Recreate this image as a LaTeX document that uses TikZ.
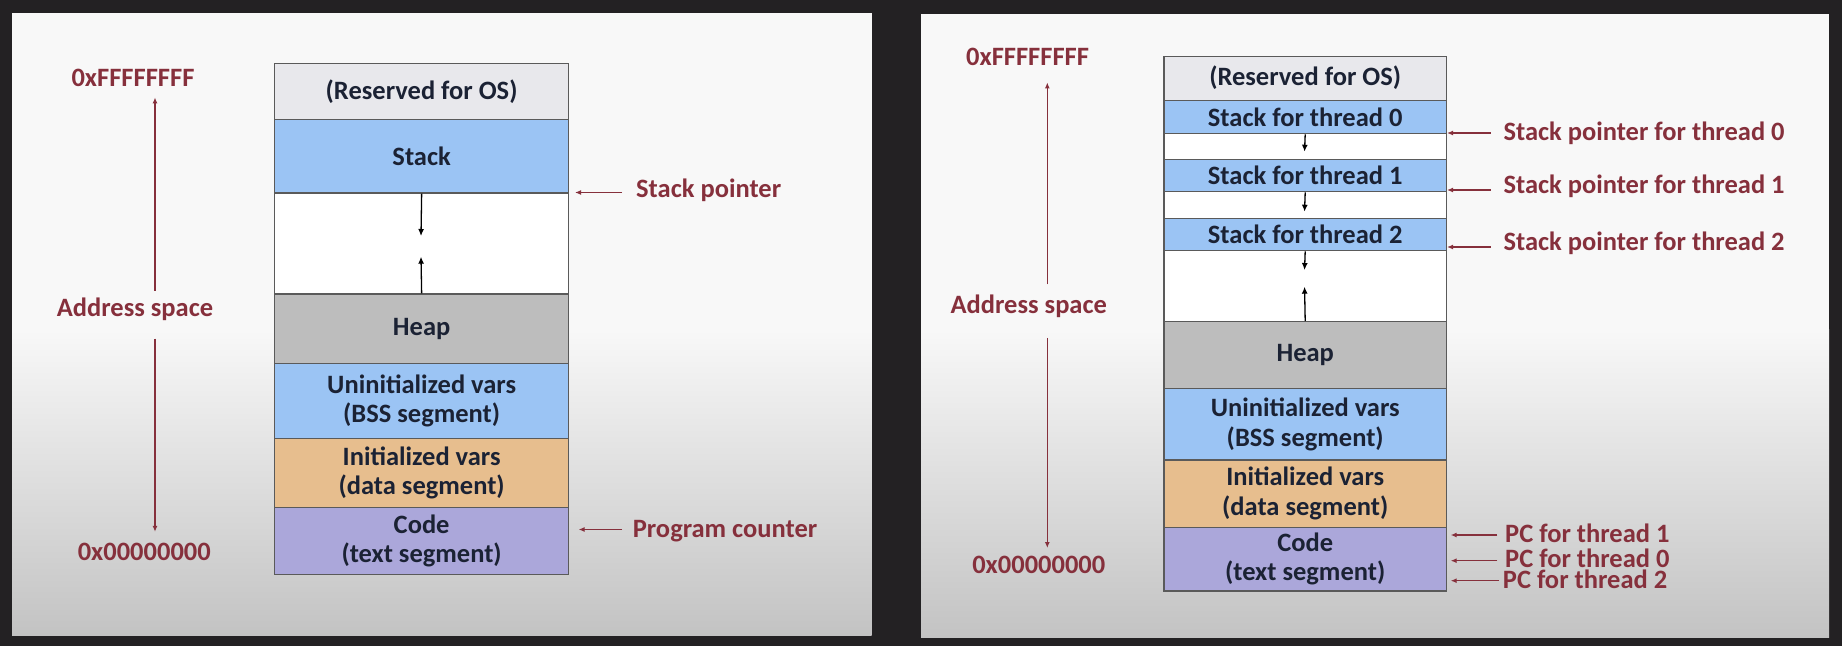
\documentclass[tikz,border=0pt]{standalone}
\usepackage{fontspec}
\setmainfont{Carlito}
\usetikzlibrary{arrows.meta}
\definecolor{bgdark}{HTML}{232123}
\definecolor{panelhi}{HTML}{F8F8F8}
\definecolor{panello}{HTML}{C3C3C3}
\definecolor{maroonc}{HTML}{86303C}
\definecolor{ink}{HTML}{1B2234}
\definecolor{resvc}{HTML}{E8E8EC}
\definecolor{stkc}{HTML}{9BC4F4}
\definecolor{heapc}{HTML}{BDBDBD}
\definecolor{datac}{HTML}{E7BE8E}
\definecolor{codec}{HTML}{ABA7DA}
\definecolor{edgec}{HTML}{5A5A5A}
\newcommand\labfont{\fontsize{26.5}{29.5}\selectfont\bfseries}
\begin{document}
\begin{tikzpicture}[x=1pt,y=-1pt,
  seg/.style={draw=edgec, line width=1.3pt, inner sep=0pt, anchor=north west,
              text=ink, font=\labfont, align=center},
  segL/.style={seg, minimum width=294pt},
  segR/.style={seg, minimum width=282.5pt},
  lab/.style={text=maroonc, font=\labfont, inner sep=0pt},
  pclab/.style={lab, text height=18pt, text depth=0pt},
  marrow/.style={draw=maroonc, line width=1.3pt, -{Latex[length=6pt,width=5pt]}},
  garrow/.style={draw=black, line width=1.3pt, -{Latex[length=7pt,width=6pt]}}
]
\useasboundingbox (0,0) rectangle (1842,646);
\fill[bgdark] (0,0) rectangle (1842,646);
% panels
\fill[panelhi] (12,13) rectangle (871.5,330);
\shade[top color=panelhi, bottom color=panello] (12,329.5) rectangle (871.5,635);
\fill[panelhi] (921,14) rectangle (1829,330);
\shade[top color=panelhi, bottom color=panello] (921,329.5) rectangle (1829,637);

% ---------------- left panel ----------------
\node[segL, fill=resvc, minimum height=55.7pt] (resL) at (274,63) {(Reserved for OS)};
\node[segL, fill=stkc, minimum height=73.7pt] (stackL) at (274,118.7) {Stack};
\node[segL, fill=white, minimum height=101pt] (gapL) at (274,192.4) {};
\node[segL, fill=heapc, minimum height=69.2pt] (heapL) at (274,293.4) {Heap};
\node[segL, fill=stkc, minimum height=75pt] (bssL) at (274,362.6) {Uninitialized vars\\(BSS segment)};
\node[segL, fill=datac, minimum height=69.2pt] (dataL) at (274,437.6) {Initialized vars\\(data segment)};
\node[segL, fill=codec, minimum height=67.2pt] (codeL) at (274,506.8) {Code\\(text segment)};

\coordinate (dnL) at (421,236);
\coordinate (upL) at (421,256.7);
\draw[garrow] (stackL.south) -- (dnL);
\draw[garrow] (heapL.north) -- (upL);

\node[lab, anchor=base] (hiL) at (133,86) {0xFFFFFFFF};
\node[lab, anchor=base] (asL) at (135,316.3) {Address space};
\node[lab, anchor=base] (loL) at (144.3,560.5) {0x00000000};
\coordinate (asLt) at (155,290.7);
\coordinate (asLtip) at (155,97.4);
\coordinate (asLb) at (155,338.5);
\coordinate (asLbtip) at (155,531.8);
\draw[marrow] (asLt) -- (asLtip);
\draw[marrow] (asLb) -- (asLbtip);

\node[lab, anchor=base west] (spL) at (636,197.3) {Stack pointer};
\node[lab, anchor=base west] (pcL) at (632.6,537) {Program counter};
\coordinate (spLa) at (622,192.5);
\coordinate (spLb) at (575,192.5);
\coordinate (pcLa) at (622,529.5);
\coordinate (pcLb) at (578.6,529.5);
\draw[marrow] (spLa) -- (spLb);
\draw[marrow] (pcLa) -- (pcLb);

% ---------------- right panel ----------------
\node[segR, fill=resvc, minimum height=44pt] (resR) at (1163.3,55.5) {(Reserved for OS)};
\node[segR, fill=stkc, minimum height=33.5pt] (st0) at (1163.3,99.5) {Stack for thread 0};
\node[segR, fill=white, minimum height=26pt] (g0) at (1163.3,133) {};
\node[segR, fill=stkc, minimum height=32pt] (st1) at (1163.3,159) {Stack for thread 1};
\node[segR, fill=white, minimum height=27pt] (g1) at (1163.3,191) {};
\node[segR, fill=stkc, minimum height=32pt] (st2) at (1163.3,218) {Stack for thread 2};
\node[segR, fill=white, minimum height=71pt] (g2) at (1163.3,250) {};
\node[segR, fill=heapc, minimum height=67pt] (heapR) at (1163.3,321) {Heap};
\node[segR, fill=stkc, minimum height=71.4pt] (bssR) at (1163.3,388) {Uninitialized vars\\(BSS segment)};
\node[segR, fill=datac, minimum height=67.2pt] (dataR) at (1163.3,459.4) {Initialized vars\\(data segment)};
\node[segR, fill=codec, minimum height=63.8pt] (codeR) at (1163.3,526.6) {Code\\(text segment)};

\coordinate (dn0) at (1304.55,151.7);
\coordinate (dn1) at (1304.55,211.7);
\coordinate (dn2) at (1304.55,270);
\coordinate (upR) at (1304.55,286.7);
\draw[garrow] (st0.south) -- (dn0);
\draw[garrow] (st1.south) -- (dn1);
\draw[garrow] (st2.south) -- (dn2);
\draw[garrow] (heapR.north) -- (upR);

\node[lab, anchor=base] (hiR) at (1027.6,65.1) {0xFFFFFFFF};
\node[lab, anchor=base] (asR) at (1028.8,313) {Address space};
\node[lab, anchor=base] (loR) at (1038.8,573.5) {0x00000000};
\coordinate (asRt) at (1047.3,284.3);
\coordinate (asRtip) at (1047.3,82.4);
\coordinate (asRb) at (1047.3,337.9);
\coordinate (asRbtip) at (1047.3,548);
\draw[marrow] (asRt) -- (asRtip);
\draw[marrow] (asRb) -- (asRbtip);

\node[lab, anchor=base west] (sp0) at (1503.3,140) {Stack pointer for thread 0};
\node[lab, anchor=base west] (sp1) at (1503.3,193.3) {Stack pointer for thread 1};
\node[lab, anchor=base west] (sp2) at (1503.3,250.7) {Stack pointer for thread 2};
\coordinate (sp0a) at (1490.7,133);
\coordinate (sp0b) at (1447,133);
\coordinate (sp1a) at (1490.7,190);
\coordinate (sp1b) at (1447,190);
\coordinate (sp2a) at (1490.7,247);
\coordinate (sp2b) at (1447,247);
\draw[marrow] (sp0a) -- (sp0b);
\draw[marrow] (sp1a) -- (sp1b);
\draw[marrow] (sp2a) -- (sp2b);

\node[pclab, anchor=base west] (pc1) at (1505,542.3) {PC for thread 1};
\node[pclab, anchor=base west] (pc0) at (1505,567.3) {PC for thread 0};
\node[pclab, anchor=base west] (pc2) at (1502.7,588.3) {PC for thread 2};
\coordinate (pc1a) at (1497.3,535);
\coordinate (pc1b) at (1450.7,535);
\coordinate (pc0a) at (1497.3,560.7);
\coordinate (pc0b) at (1450.7,560.7);
\coordinate (pc2a) at (1499,580.7);
\coordinate (pc2b) at (1450.7,580.7);
\draw[marrow] (pc1a) -- (pc1b);
\draw[marrow] (pc0a) -- (pc0b);
\draw[marrow] (pc2a) -- (pc2b);
\end{tikzpicture}
\end{document}
